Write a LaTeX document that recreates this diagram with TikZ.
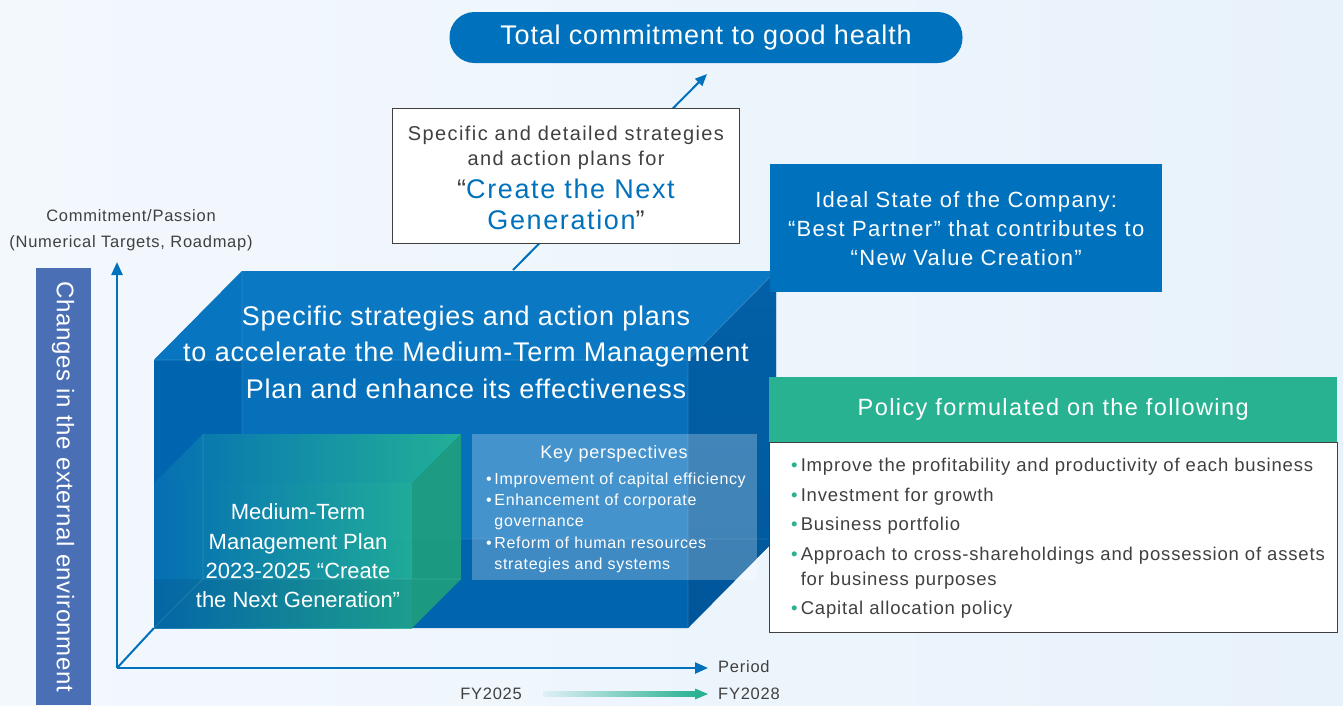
\documentclass[tikz,border=0pt]{standalone}
\usepackage{fontspec}
\setmainfont{Liberation Sans}
\usetikzlibrary{arrows.meta}
\definecolor{bgA}{RGB}{243,248,253}
\definecolor{bgB}{RGB}{232,242,251}
\definecolor{cblue}{RGB}{0,113,188}
\definecolor{barblue}{RGB}{74,111,181}
\definecolor{pgreen}{RGB}{40,178,145}
\definecolor{tgray}{RGB}{64,64,64}
\definecolor{cubeA}{RGB}{0,100,175}
\definecolor{cubeB}{RGB}{6,112,187}
\definecolor{cubeTop}{RGB}{12,124,198}
\definecolor{cubeR}{RGB}{0,82,148}
\definecolor{gA}{RGB}{6,112,180}
\definecolor{gM}{RGB}{6,163,163}
\definecolor{gB}{RGB}{36,180,150}
\definecolor{gR}{RGB}{32,160,125}
\newcommand\fz[3]{\fontsize{#1}{#2}\selectfont\addfontfeatures{LetterSpace=#3}}
\begin{document}
\begin{tikzpicture}[x=1pt,y=-1pt,
  axis/.style={draw=cblue,line width=2.4pt,-{Triangle[length=13pt,width=11pt]}},
  wtext/.style={text=white,inner sep=0pt,align=center},
  gtext/.style={text=tgray,inner sep=0pt},
  bul/.style={text=tgray,inner sep=0pt,anchor=west,font=\fz{18.5}{25}{4.5},align=left},
  kp/.style={text=white,inner sep=0pt,anchor=west,font=\fz{16}{21.5}{4},align=left}]
\useasboundingbox (0,0) rectangle (1343,705);
\shade[left color=bgA,right color=bgB] (0,0) rectangle (1343,705);

% left bar
\node[fill=barblue,minimum width=55pt,minimum height=437pt,inner sep=0pt,anchor=north west] (bar) at (36,268) {};
\node[wtext,rotate=-90,font=\fz{24}{28}{2.5}] (bartext) at (63,487) {Changes in the external environment};

% axis labels
\node[gtext,font=\fz{16.5}{20}{4.5}] (ylab1) at (131,216) {Commitment/Passion};
\node[gtext,font=\fz{16.5}{20}{4.5}] (ylab2) at (131,243) {(Numerical Targets, Roadmap)};

% axes
\coordinate (O) at (117,668);
\coordinate (ytip) at (117,262);
\coordinate (xtip) at (708,668);
\coordinate (cubecorner) at (154,628);
\draw[cblue,line width=2pt] (O) -- (cubecorner);
\draw[axis] (O) -- (ytip);
\draw[axis] (O) -- (xtip);
\node[gtext,anchor=west,font=\fz{16.5}{20}{4.5}] (period) at (718,667) {Period};
\node[gtext,anchor=east,font=\fz{16.5}{20}{4.5}] (fy25) at (522,694) {FY2025};
\node[gtext,anchor=west,font=\fz{16.5}{20}{4.5}] (fy28) at (718,694) {FY2028};
\coordinate (gend) at (696,694);
\coordinate (gtip) at (708,694);
\shade[left color=pgreen!4!bgB,right color=pgreen] (543,691.5) rectangle (697,696.5);
\draw[pgreen,line width=0pt,-{Triangle[length=13pt,width=11pt]}] (gend) -- (gtip);

% top pill
\node[fill=cblue,rounded corners=25pt,minimum width=513pt,minimum height=51pt,inner sep=0pt,
      text=white,font=\fz{27}{30}{3}] (goal) at (706,37.5) {Total commitment to good health};

% diagonal arrow
\coordinate (astart) at (513,270);
\coordinate (atip) at (707,74);
\draw[cblue,line width=2pt,-{Triangle[length=12pt,width=10pt]}] (astart) -- (atip);

% big cube
\fill[cubeA] (154,360) -- (242,271) -- (776,271) -- (776,539) -- (688,628) -- (154,628) -- cycle;
\fill[cubeB] (242,271) rectangle (776,539);
\fill[cubeTop,opacity=0.75] (154,360) -- (242,271) -- (776,271) -- (688,360) -- cycle;
\shade[top color=cubeR!70!cubeB,bottom color=cubeR,opacity=0.75] (688,360) -- (776,271) -- (776,539) -- (688,628) -- cycle;
\draw[white,opacity=0.18,line width=0.8pt] (154,360) -- (688,360) -- (688,628) (688,360) -- (776,271);
\draw[white,opacity=0.12,line width=0.8pt] (154,628) -- (242,539) -- (776,539) (242,271) -- (242,539);
\node[wtext,font=\fz{27}{36.5}{3}] (cubetext) at (466,352)
  {Specific strategies and action plans\\to accelerate the Medium-Term Management\\Plan and enhance its effectiveness};

% green cube
\shade[left color=gA,middle color=gM,right color=gB,opacity=0.95] (154,483) -- (203,434) -- (461,434) -- (412,483) -- cycle;
\shade[left color=gA,middle color=gM,right color=gB,opacity=0.88] (154,483) rectangle (412,628);
\fill[black,opacity=0.07] (154,579) rectangle (412,628);
\fill[gR,opacity=0.9] (412,483) -- (461,434) -- (461,579) -- (412,628) -- cycle;
\draw[white,opacity=0.15,line width=0.6pt] (203,434) -- (203,579) -- (461,579) (154,628) -- (203,579);
\node[wtext,font=\fz{22}{29.3}{0}] (mtp) at (298,556)
  {Medium-Term\\Management Plan\\2023-2025 “Create\\the Next Generation”};

% key perspectives
\node[fill=white,fill opacity=0.25,minimum width=285pt,minimum height=146pt,inner sep=0pt,anchor=north west] (kpbox) at (472,434) {};
\node[wtext,font=\fz{18}{20}{4}] (kptitle) at (614,454) {Key perspectives};
\node[kp] (kp1) at (486,480) {•\,Improvement of capital efficiency};
\node[kp] (kp2) at (486,512) {•\,Enhancement of corporate\\\hphantom{•\,}governance};
\node[kp] (kp3) at (486,555) {•\,Reform of human resources\\\hphantom{•\,}strategies and systems};

% spec box
\node[draw=tgray,line width=1pt,fill=white,minimum width=347pt,minimum height=135pt,inner sep=0pt] (spec) at (565.5,175.5) {};
\node[gtext,font=\fz{20}{25}{7},align=center] (spec1) at (566,148) {Specific and detailed strategies\\and action plans for};
\node[inner sep=0pt,font=\fz{27}{31}{6},align=center,text=cblue] (spec2) at (566,204)
  {\textcolor{tgray}{“}Create the Next\\Generation\textcolor{tgray}{”}};

% ideal state
\node[fill=cblue,minimum width=392pt,minimum height=128pt,inner sep=0pt,anchor=north west,
      text=white,align=center,font=\fz{22}{29}{6}] (ideal) at (770,164)
  {Ideal State of the Company:\\“Best Partner” that contributes to\\“New Value Creation”};

% policy box
\node[draw=tgray,line width=1pt,fill=white,minimum width=568pt,minimum height=190pt,inner sep=0pt,anchor=north west] (polbody) at (769,442) {};
\node[fill=pgreen,minimum width=568pt,minimum height=65pt,inner sep=0pt,anchor=north west,
      text=white,font=\fz{23.5}{26}{6}] (polhead) at (769,377) {Policy formulated on the following};
\node[bul] (p1) at (791,467) {\textcolor{pgreen}{•}\,Improve the profitability and productivity of each business};
\node[bul] (p2) at (791,497) {\textcolor{pgreen}{•}\,Investment for growth};
\node[bul] (p3) at (791,526) {\textcolor{pgreen}{•}\,Business portfolio};
\node[bul] (p4) at (791,568.5) {\textcolor{pgreen}{•}\,Approach to cross-shareholdings and possession of assets\\\hphantom{•\,}for business purposes};
\node[bul] (p5) at (791,610) {\textcolor{pgreen}{•}\,Capital allocation policy};
\end{tikzpicture}
\end{document}
